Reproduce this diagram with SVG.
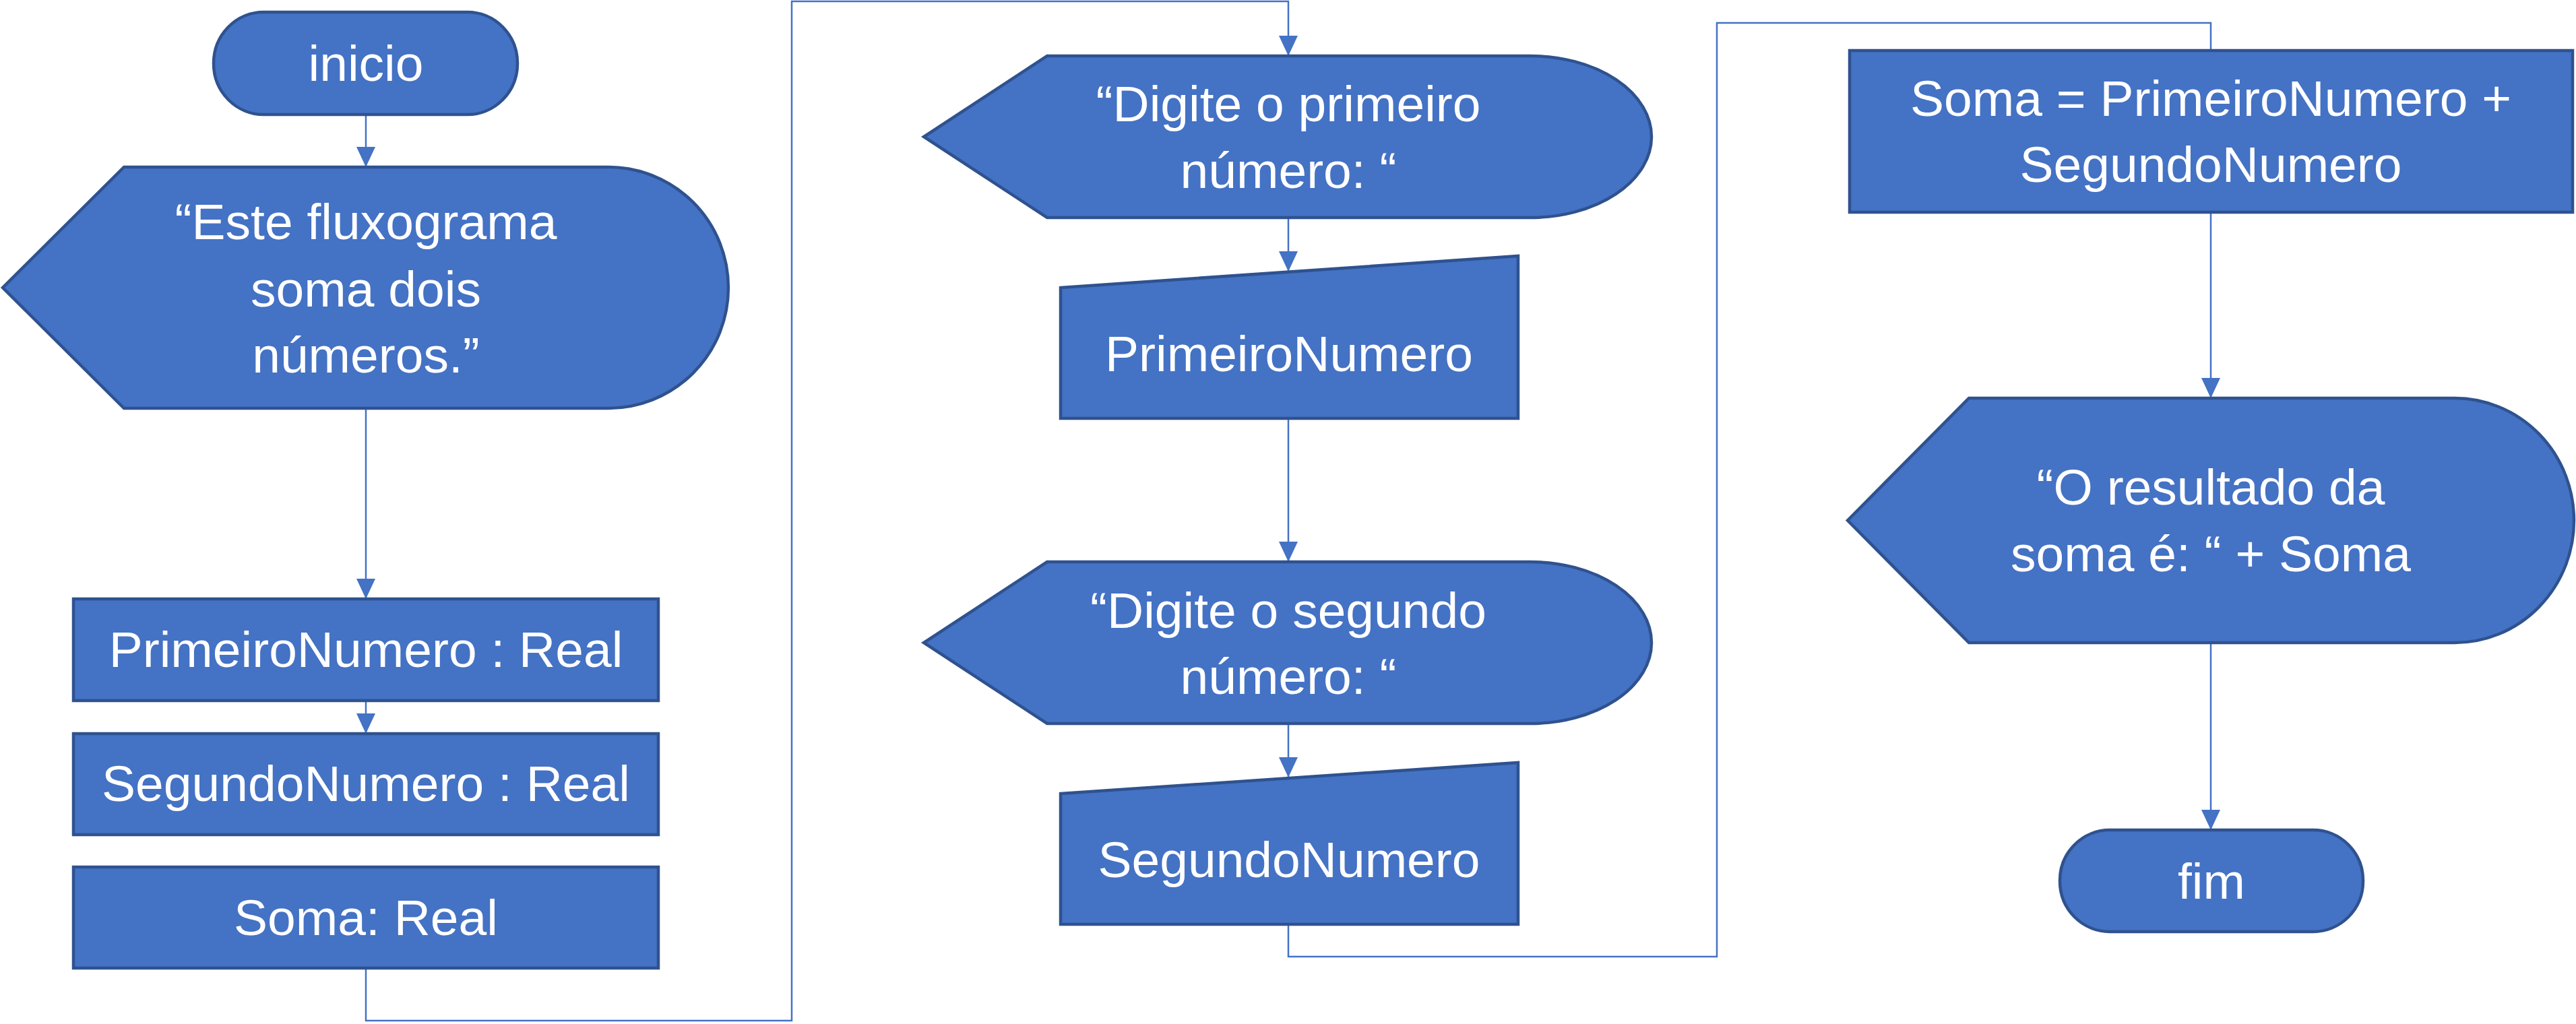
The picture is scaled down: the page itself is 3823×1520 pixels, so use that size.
<svg xmlns="http://www.w3.org/2000/svg" width="3823" height="1520" viewBox="0 0 3823 1520">
<style>
.n{fill:#4472C4;stroke:#2F528F;stroke-width:4.5}
.t{font-family:"Liberation Sans",Arial,sans-serif;font-size:75px;fill:#FFFFFF;text-anchor:middle}
.c{fill:none;stroke:#4472C4;stroke-width:2.5}
</style>
<defs>
<marker id="ah" markerUnits="userSpaceOnUse" markerWidth="30" markerHeight="28" viewBox="0 0 30 28" refX="30" refY="14" orient="auto">
<path d="M0,0 L30,14 L0,28 Z" fill="#4472C4"/>
</marker>
</defs>
<g id="connectors">
<path class="c" d="M543,172 V248" marker-end="url(#ah)"/>
<path class="c" d="M543,608 V889" marker-end="url(#ah)"/>
<path class="c" d="M543,1042 V1089" marker-end="url(#ah)"/>
<path class="c" d="M543,1439 V1515 H1175 V2 H1912 V83" marker-end="url(#ah)"/>
<path class="c" d="M1912,325 V403" marker-end="url(#ah)"/>
<path class="c" d="M1912,623 V834" marker-end="url(#ah)"/>
<path class="c" d="M1912,1076 V1154" marker-end="url(#ah)"/>
<path class="c" d="M1912,1374 V1420 H2548 V34 H3281 V75"/>
<path class="c" d="M3281,317 V591" marker-end="url(#ah)"/>
<path class="c" d="M3281,956 V1232" marker-end="url(#ah)"/>
</g>
<g id="inicio">
<rect class="n" x="317" y="18" width="451" height="152" rx="74" ry="76"/>
<text class="t" x="543" y="120">inicio</text>
</g>
<g id="msg1">
<path class="n" d="M184,248 H903 A178,179 0 0 1 903,606 H184 L4,427 Z"/>
<text class="t" x="543" y="355">“Este fluxograma</text>
<text class="t" x="543" y="455">soma dois</text>
<text class="t" x="543" y="553">números.”</text>
</g>
<g id="var1">
<rect class="n" x="109" y="889" width="868" height="151"/>
<text class="t" x="543" y="990">PrimeiroNumero : Real</text>
</g>
<g id="var2">
<rect class="n" x="109" y="1089" width="868" height="150"/>
<text class="t" x="543" y="1189">SegundoNumero : Real</text>
</g>
<g id="var3">
<rect class="n" x="109" y="1287" width="868" height="150"/>
<text class="t" x="543" y="1388">Soma: Real</text>
</g>
<g id="msg2">
<path class="n" d="M1554,83 H2271 A180,120 0 0 1 2271,323 H1554 L1371,203 Z"/>
<text class="t" x="1912" y="180">“Digite o primeiro</text>
<text class="t" x="1912" y="279">número: “</text>
</g>
<g id="input1">
<path class="n" d="M1574,427 L2253,380 L2253,621 L1574,621 Z"/>
<text class="t" x="1913" y="551">PrimeiroNumero</text>
</g>
<g id="msg3">
<path class="n" d="M1554,834 H2271 A180,120 0 0 1 2271,1074 H1554 L1371,954 Z"/>
<text class="t" x="1912" y="932">“Digite o segundo</text>
<text class="t" x="1912" y="1030">número: “</text>
</g>
<g id="input2">
<path class="n" d="M1574,1178 L2253,1132 L2253,1372 L1574,1372 Z"/>
<text class="t" x="1913" y="1302">SegundoNumero</text>
</g>
<g id="soma">
<rect class="n" x="2745" y="75" width="1073" height="240"/>
<text class="t" x="3281" y="172">Soma = PrimeiroNumero +</text>
<text class="t" x="3281" y="270">SegundoNumero</text>
</g>
<g id="msg4">
<path class="n" d="M2922,591 H3643 A177,181.5 0 0 1 3643,954 H2922 L2742,772.5 Z"/>
<text class="t" x="3281" y="749">“O resultado da</text>
<text class="t" x="3281" y="848">soma é: “ + Soma</text>
</g>
<g id="fim">
<rect class="n" x="3057" y="1232" width="450" height="151" rx="74" ry="75"/>
<text class="t" x="3282" y="1334">fim</text>
</g>
</svg>
